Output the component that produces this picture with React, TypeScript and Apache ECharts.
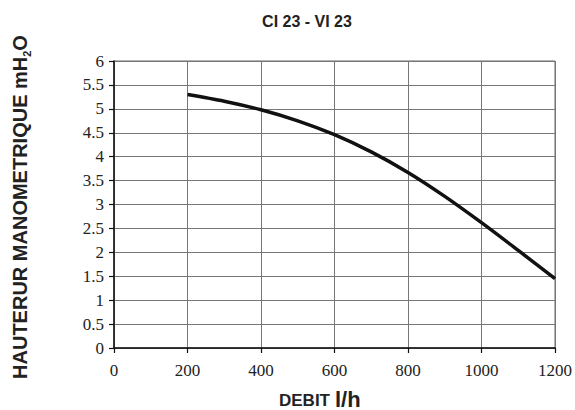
import React, { useEffect, useRef } from "react";
import * as echarts from "echarts";

const titleText = "CI 23 - VI 23";
const flowValues = [200, 300, 400, 500, 600, 700, 800, 900, 1000, 1100, 1200];
const headValues = [5.3, 5.16, 4.98, 4.75, 4.46, 4.1, 3.67, 3.17, 2.62, 2.04, 1.45];
const xTicks = [0, 200, 400, 600, 800, 1000, 1200];
const yTicks = [0, 0.5, 1, 1.5, 2, 2.5, 3, 3.5, 4, 4.5, 5, 5.5, 6];

const serif = "'Liberation Serif', 'Times New Roman', serif";
const sans = "'Liberation Sans', Arial, sans-serif";

export default function App() {
  const ref = useRef<HTMLDivElement>(null);
  useEffect(() => {
    if (!ref.current) return;
    const chart = echarts.init(ref.current, null, { renderer: "svg" });
    const data = flowValues.map((x, i) => [x, headValues[i]]);
    chart.setOption({
      animation: false,
      backgroundColor: "#ffffff",
      title: {
        text: titleText,
        left: 302,
        textAlign: "center",
        top: 8,
        textStyle: { fontFamily: sans, fontWeight: "bold", fontSize: 16, color: "#222" },
      },
      grid: { left: 114, right: 20, top: 61, bottom: 62 },
      xAxis: {
        type: "value",
        min: xTicks[0],
        max: xTicks[xTicks.length - 1],
        interval: 200,
        axisLine: { show: true, onZero: false, lineStyle: { color: "#111", width: 1.5 } },
        axisTick: { show: true, length: 5, lineStyle: { color: "#111", width: 1.2 } },
        axisLabel: {
          margin: 14,
          fontFamily: serif,
          fontSize: 17,
          color: "#222",
          formatter: (v: number) => String(v),
        },
        splitLine: { show: true, lineStyle: { color: "#777", width: 1 } },
      },
      yAxis: {
        type: "value",
        min: yTicks[0],
        max: yTicks[yTicks.length - 1],
        interval: 0.5,
        axisLine: { show: true, onZero: false, lineStyle: { color: "#111", width: 1.5 } },
        axisTick: { show: true, length: 5, lineStyle: { color: "#111", width: 1.2 } },
        axisLabel: {
          margin: 10,
          fontFamily: serif,
          fontSize: 17,
          color: "#222",
          formatter: (v: number) => String(v),
        },
        splitLine: { show: true, lineStyle: { color: "#777", width: 1 } },
      },
      graphic: [
        {
          type: "rect",
          shape: { x: 114, y: 61, width: 441, height: 287 },
          style: { fill: "none", stroke: "#666", lineWidth: 1 },
          silent: true,
          z: -1,
        },
        {
          type: "text",
          x: 20,
          y: 207,
          rotation: Math.PI / 2,
          style: {
            text: "{a|HAUTERUR MANOMETRIQUE mH}{b|2}{a|O}",
            align: "center",
            verticalAlign: "middle",
            rich: {
              a: { fontFamily: sans, fontWeight: "bold", fontSize: 20, fill: "#222", lineHeight: 24, verticalAlign: "middle" },
              b: { fontFamily: sans, fontWeight: "bold", fontSize: 11, fill: "#222", padding: [14, 0, 0, 0], verticalAlign: "bottom" },
            },
          },
        },
        {
          type: "text",
          x: 279,
          y: 409,
          style: {
            text: "DEBIT",
            align: "left",
            verticalAlign: "bottom",
            fontFamily: sans,
            fontWeight: "bold",
            fontSize: 17,
            fill: "#222",
          },
        },
        {
          type: "text",
          x: 335,
          y: 410,
          style: {
            text: "l/h",
            align: "left",
            verticalAlign: "bottom",
            fontFamily: sans,
            fontWeight: "bold",
            fontSize: 22,
            fill: "#222",
          },
        },
      ],
      series: [
        {
          type: "line",
          data,
          smooth: 0.3,
          showSymbol: false,
          lineStyle: { color: "#111", width: 3.5 },
        },
      ],
    });
    return () => chart.dispose();
  }, []);
  return (
    <div
      ref={ref}
      style={{ position: "absolute", left: 0, top: 0, width: 575, height: 410, overflow: "hidden" }}
    />
  );
}
